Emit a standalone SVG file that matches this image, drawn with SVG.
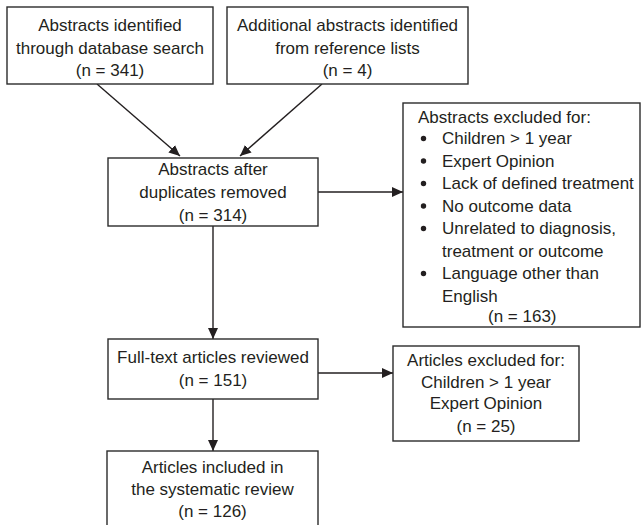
<svg xmlns="http://www.w3.org/2000/svg" width="641" height="525" viewBox="0 0 641 525">
<defs>
<style>
.box{fill:#fff;stroke:#2b2b2b;stroke-width:1.4}
.t{font-family:"Liberation Sans",Arial,sans-serif;font-size:17px;fill:#231f20}
.c{text-anchor:middle}
.ln{stroke:#231f20;stroke-width:1.4;fill:none}
</style>
<marker id="ah" markerUnits="userSpaceOnUse" markerWidth="12" markerHeight="10" refX="11" refY="5" orient="auto">
<path d="M0,0 L11,5 L0,10 Z" fill="#231f20"/>
</marker>
</defs>
<g id="connectors">
<line class="ln" x1="97" y1="84" x2="180" y2="156" marker-end="url(#ah)"/>
<line class="ln" x1="322" y1="84" x2="240" y2="156" marker-end="url(#ah)"/>
<line class="ln" x1="318" y1="192" x2="403" y2="192" marker-end="url(#ah)"/>
<line class="ln" x1="213" y1="226" x2="213" y2="339" marker-end="url(#ah)"/>
<line class="ln" x1="318" y1="373" x2="393" y2="373" marker-end="url(#ah)"/>
<line class="ln" x1="213" y1="399" x2="213" y2="451" marker-end="url(#ah)"/>
</g>
<g id="db-search">
<rect class="box" x="7" y="7" width="206" height="77"/>
<text class="t c" x="110" y="31">Abstracts identified</text>
<text class="t c" x="110" y="54">through database search</text>
<text class="t c" x="110" y="76">(n = 341)</text>
</g>
<g id="ref-lists">
<rect class="box" x="227" y="7" width="241" height="77"/>
<text class="t c" x="347.5" y="31">Additional abstracts identified</text>
<text class="t c" x="347.5" y="54">from reference lists</text>
<text class="t c" x="347.5" y="76">(n = 4)</text>
</g>
<g id="dedup">
<rect class="box" x="108" y="158" width="210" height="68"/>
<text class="t c" x="213" y="175">Abstracts after</text>
<text class="t c" x="213" y="198">duplicates removed</text>
<text class="t c" x="213" y="221">(n = 314)</text>
</g>
<g id="abstracts-excluded">
<rect class="box" x="403" y="103" width="237" height="224"/>
<text class="t" x="418" y="123">Abstracts excluded for:</text>
<g class="t">
<circle cx="423.5" cy="138.5" r="2.7" fill="#231f20"/>
<text x="442" y="144">Children &gt; 1 year</text>
<circle cx="423.5" cy="161" r="2.7" fill="#231f20"/>
<text x="442" y="166.5">Expert Opinion</text>
<circle cx="423.5" cy="183.5" r="2.7" fill="#231f20"/>
<text x="442" y="189">Lack of defined treatment</text>
<circle cx="423.5" cy="206" r="2.7" fill="#231f20"/>
<text x="442" y="211.5">No outcome data</text>
<circle cx="423.5" cy="228.5" r="2.7" fill="#231f20"/>
<text x="442" y="234">Unrelated to diagnosis,</text>
<text x="442" y="256.5">treatment or outcome</text>
<circle cx="423.5" cy="273.5" r="2.7" fill="#231f20"/>
<text x="442" y="279">Language other than</text>
<text x="442" y="301.5">English</text>
<text x="488" y="322">(n = 163)</text>
</g>
</g>
<g id="fulltext">
<rect class="box" x="108" y="339" width="210" height="60"/>
<text class="t c" x="213" y="363">Full-text articles reviewed</text>
<text class="t c" x="213" y="386">(n = 151)</text>
</g>
<g id="articles-excluded">
<rect class="box" x="393" y="346" width="186" height="95"/>
<text class="t c" x="486" y="366">Articles excluded for:</text>
<text class="t c" x="486" y="388">Children &gt; 1 year</text>
<text class="t c" x="486" y="409">Expert Opinion</text>
<text class="t c" x="486" y="432">(n = 25)</text>
</g>
<g id="included">
<rect class="box" x="107" y="451" width="211" height="80"/>
<text class="t c" x="212.5" y="473">Articles included in</text>
<text class="t c" x="212.5" y="495">the systematic review</text>
<text class="t c" x="212.5" y="517">(n = 126)</text>
</g>
</svg>
